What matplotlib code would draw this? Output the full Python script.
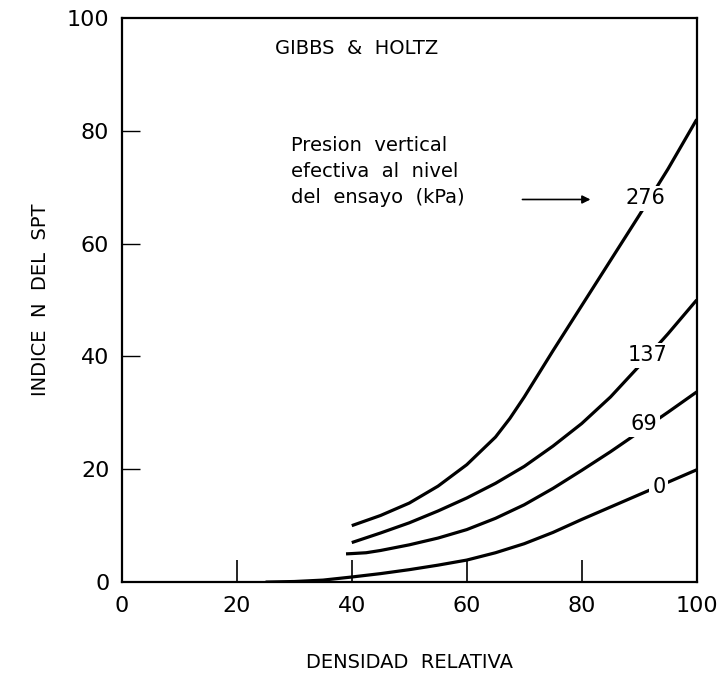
import matplotlib.pyplot as plt

# Densidad relativa (%) vs indice N del SPT, Gibbs & Holtz
dr_0 = [25, 30, 35, 40, 45, 50, 55, 60, 65, 70, 75, 80, 85, 90, 95, 100]
n_0 = [0, 0.1, 0.35, 0.9, 1.5, 2.2, 3.0, 3.9, 5.2, 6.8, 8.8, 11.1, 13.3, 15.5, 17.7, 19.9]

dr_69 = [39, 40, 42.5, 45, 50, 55, 60, 65, 70, 75, 80, 85, 90, 95, 100]
n_69 = [5.0, 5.05, 5.2, 5.6, 6.6, 7.8, 9.3, 11.3, 13.7, 16.6, 19.8, 23.1, 26.6, 30.1, 33.7]

dr_137 = [40, 45, 50, 55, 60, 65, 70, 75, 80, 85, 90, 95, 100]
n_137 = [7.0, 8.7, 10.5, 12.6, 14.9, 17.5, 20.5, 24.1, 28.1, 32.8, 38.3, 44.0, 50.0]

dr_276 = [40, 45, 50, 55, 60, 65, 67.5, 70, 72.5, 75, 80, 85, 90, 95, 100]
n_276 = [10.0, 11.8, 14.0, 17.0, 20.8, 25.7, 29.0, 32.8, 36.9, 41.0, 49.0, 57.0, 65.0, 73.2, 82.0]

curves = [(dr_0, n_0, "0", 93.4, 16.8),
          (dr_69, n_69, "69", 90.8, 28.0),
          (dr_137, n_137, "137", 91.5, 40.2),
          (dr_276, n_276, "276", 91.0, 68.0)]

fig = plt.figure(figsize=(7.25, 6.84), dpi=100)
ax = fig.add_axes([0.168, 0.149, 0.793, 0.825])

for x, y, lab, lx, ly in curves:
    ax.plot(x, y, color="black", lw=2.3, solid_capstyle="butt",
            solid_joinstyle="round")
    ax.text(lx, ly, lab, fontsize=15, ha="center", va="center", zorder=5,
            bbox=dict(facecolor="white", edgecolor="none", pad=2))

ax.set_xlim(0, 100)
ax.set_ylim(0, 100)
ax.set_xticks([0, 20, 40, 60, 80, 100])
ax.set_yticks([0, 20, 40, 60, 80, 100])
ax.tick_params(axis="x", direction="in", length=16, width=1.2, labelsize=16, pad=10)
ax.tick_params(axis="y", direction="in", length=13, width=1.0, labelsize=16, pad=9)
# no tick marks at the corners, only the labels
for axis in (ax.xaxis, ax.yaxis):
    ticks = axis.get_major_ticks()
    for t in (ticks[0], ticks[-1]):
        t.tick1line.set_visible(False)
for s in ax.spines.values():
    s.set_linewidth(1.6)

ax.set_xlabel("DENSIDAD  RELATIVA", fontsize=14, labelpad=27)
ax.set_ylabel("INDICE  N  DEL  SPT", fontsize=14, labelpad=12)

ax.text(26.7, 94.5, "GIBBS  &  HOLTZ", fontsize=14, va="center")
ax.text(29.5, 79, "Presion  vertical\nefectiva  al  nivel\ndel  ensayo  (kPa)",
        fontsize=14, va="top", linespacing=1.45)
ax.annotate("", xy=(82, 67.8), xytext=(69.2, 67.8),
            arrowprops=dict(arrowstyle="-|>", color="black", lw=1.2,
                            mutation_scale=12))

fig.savefig("out.png", dpi=100)
